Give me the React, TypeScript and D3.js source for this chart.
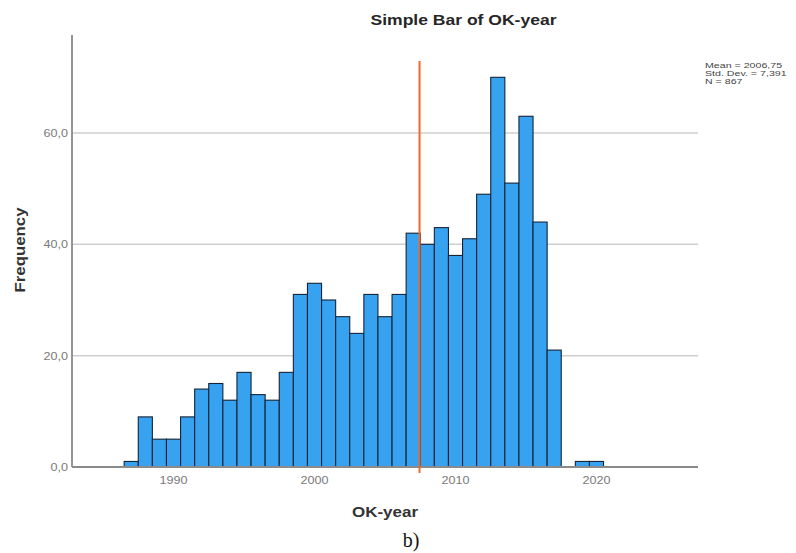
import React from 'react';
import * as d3 from 'd3';

// year bins and their counts
const years = [1987, 1988, 1989, 1990, 1991, 1992, 1993, 1994, 1995, 1996, 1997, 1998, 1999, 2000, 2001, 2002, 2003, 2004, 2005, 2006, 2007, 2008, 2009, 2010, 2011, 2012, 2013, 2014, 2015, 2016, 2017, 2018, 2019, 2020];
const counts = [1, 9, 5, 5, 9, 14, 15, 12, 17, 13, 12, 17, 31, 33, 30, 27, 24, 31, 27, 31, 42, 40, 43, 38, 41, 49, 70, 51, 63, 44, 21, 0, 1, 1];
const xTicks = [1990, 2000, 2010, 2020];
const yTicks = [0, 20, 40, 60];
const statLines = ['Mean = 2006,75', 'Std. Dev. = 7,391', 'N = 867'];
// where the orange reference line sits on the year axis in the picture
const meanLineYear = 2007.45;

const W = 796;
const H = 553;
const left = 72;
const right = 698;
const bottom = 467;
const top = 35;

// stretch a text horizontally around its anchor point
const stretch = (ax: number, k: number) => `translate(${ax},0) scale(${k},1) translate(${-ax},0)`;

export default function App() {
    const x = d3.scaleLinear().domain([1982.8, 2027.2]).range([left, right]);
    const y = d3.scaleLinear().domain([0, 77.6]).range([bottom, top]);
    const fmt = (v: number) => v.toFixed(1).replace('.', ',');
    const sans = 'Liberation Sans, Arial, sans-serif';

    return (
        <svg width={W} height={H} style={{ position: 'absolute', left: 0, top: 0, background: '#fff' }}>
            <text x={463.5} y={25} textAnchor="middle" fontFamily={sans} fontWeight="bold" fontSize={15}
                textLength={186} lengthAdjust="spacingAndGlyphs" fill="#262626">
                Simple Bar of OK-year
            </text>

            {/* gridlines */}
            {yTicks.filter(t => t > 0).map(t => (
                <line key={t} x1={left} x2={right} y1={y(t)} y2={y(t)} stroke="#cfcfcf" strokeWidth={1.5} />
            ))}

            {/* bars */}
            {years.map((yr, i) => counts[i] > 0 && (
                <rect key={yr}
                    x={x(yr - 0.5)} y={y(counts[i])}
                    width={x(yr + 0.5) - x(yr - 0.5)} height={y(0) - y(counts[i])}
                    fill="#36a2f0" stroke="#142436" strokeWidth={1.1} />
            ))}

            {/* axes */}
            <line x1={left} x2={left} y1={top} y2={bottom} stroke="#8a8a8a" strokeWidth={1.8} />
            <line x1={left} x2={right} y1={bottom} y2={bottom} stroke="#8a8a8a" strokeWidth={1.8} />

            {/* mean line */}
            <line x1={x(meanLineYear)} x2={x(meanLineYear)} y1={y(77.6) + 26} y2={bottom + 6}
                stroke="#ee6a2a" strokeWidth={2} />

            {yTicks.map(t => (
                <text key={t} x={left - 4} y={y(t) + 4} textAnchor="end" fontFamily={sans} fontSize={10.5}
                    transform={stretch(left - 4, 1.2)} fill="#7a7a7a">
                    {fmt(t)}
                </text>
            ))}
            {xTicks.map(t => (
                <text key={t} x={x(t)} y={bottom + 17} textAnchor="middle" fontFamily={sans} fontSize={10.5}
                    transform={stretch(x(t), 1.2)} fill="#7a7a7a">
                    {t}
                </text>
            ))}

            <text x={385} y={517} textAnchor="middle" fontFamily={sans} fontWeight="bold" fontSize={15.5}
                textLength={66} lengthAdjust="spacingAndGlyphs" fill="#333">
                OK-year
            </text>
            <text transform="translate(25,250) rotate(-90)" textAnchor="middle" fontFamily={sans} fontWeight="bold" fontSize={14.5}
                textLength={85} lengthAdjust="spacingAndGlyphs" fill="#333">
                Frequency
            </text>

            {statLines.map((s, i) => (
                <text key={s} x={705} y={68 + i * 7.8} fontFamily={sans} fontSize={7.6}
                    transform={stretch(705, 1.4)} fill="#444">{s}</text>
            ))}

            <text x={411} y={547} textAnchor="middle" fontFamily="Liberation Serif, Times New Roman, serif" fontSize={20} fill="#111">
                b)
            </text>
        </svg>
    );
}
